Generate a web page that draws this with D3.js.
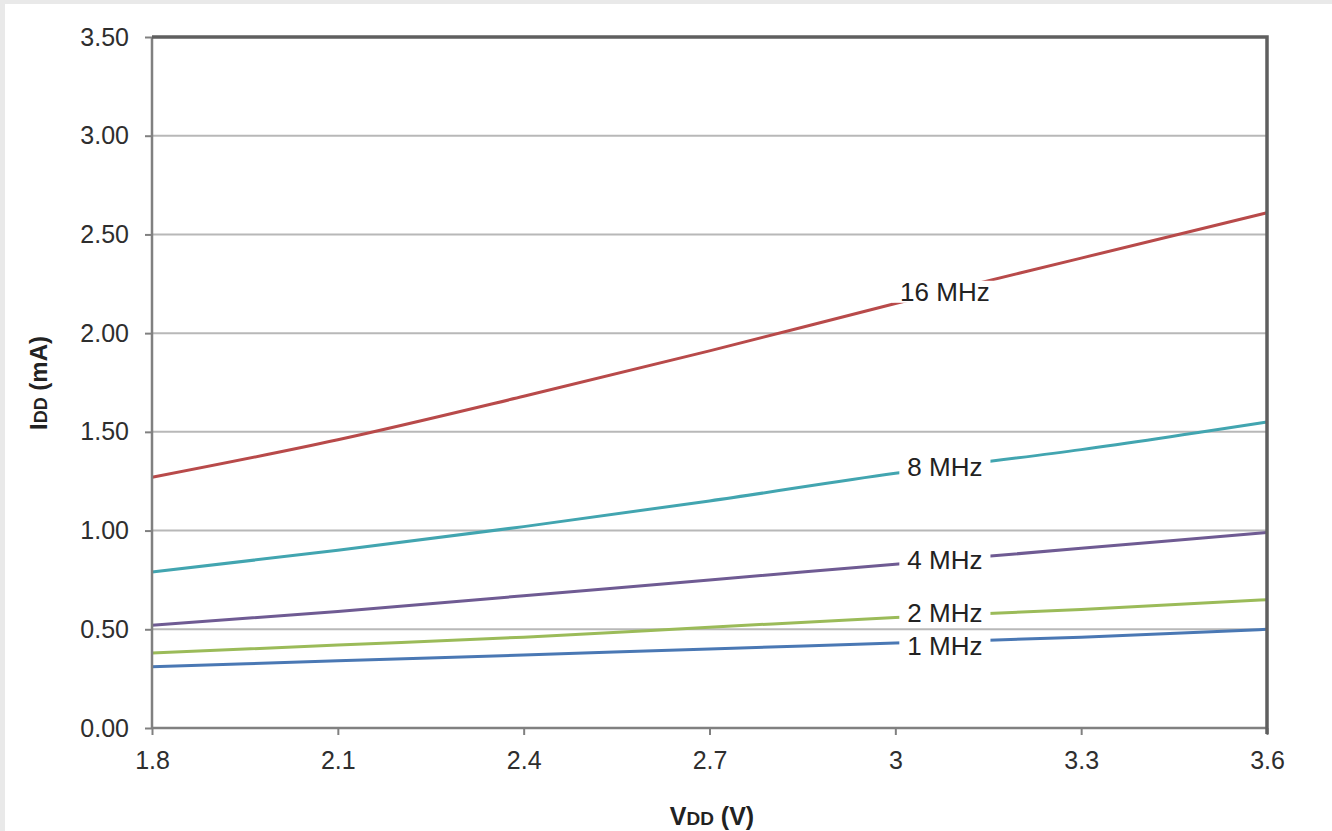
<!DOCTYPE html>
<html>
<head>
<meta charset="utf-8">
<script src="https://cdn.jsdelivr.net/npm/d3@7"></script>
<style>
  html, body { margin: 0; padding: 0; background: #e9e9e9; }
  svg { display: block; }
  text { font-family: "Liberation Sans", Arial, sans-serif; }
</style>
</head>
<body>
<svg id="chart" width="1332" height="831"></svg>
<script>
// Supply voltage (V) sample points
const vdd = [1.8, 2.1, 2.4, 2.7, 3.0, 3.3, 3.6];

// Supply current IDD (mA) per clock frequency
const idd1MHz  = [0.31, 0.34, 0.37, 0.40, 0.43, 0.46, 0.50];
const idd2MHz  = [0.38, 0.42, 0.46, 0.51, 0.56, 0.60, 0.65];
const idd4MHz  = [0.52, 0.59, 0.67, 0.75, 0.83, 0.91, 0.99];
const idd8MHz  = [0.79, 0.90, 1.02, 1.15, 1.29, 1.41, 1.55];
const idd16MHz = [1.27, 1.46, 1.68, 1.91, 2.15, 2.38, 2.61];

const seriesNames  = ["1 MHz", "2 MHz", "4 MHz", "8 MHz", "16 MHz"];
const seriesColors = ["#4a78b4", "#9bbb59", "#6f5b93", "#42a5b0", "#b84a4a"];
const seriesValues = [idd1MHz, idd2MHz, idd4MHz, idd8MHz, idd16MHz];

// Axis ticks
const xTicks = [1.8, 2.1, 2.4, 2.7, 3.0, 3.3, 3.6];
const xTickLabels = ["1.8", "2.1", "2.4", "2.7", "3", "3.3", "3.6"];
const yTicks = [0, 0.5, 1.0, 1.5, 2.0, 2.5, 3.0, 3.5];

// Voltage at which each curve carries its inline label
const labelVdd = 3.08;

const svg = d3.select("#chart");

// Light frame on the top and left edges, white canvas elsewhere
svg.append("rect").attr("x", 0).attr("y", 0).attr("width", 1332).attr("height", 831).attr("fill", "#e9e9e9");
svg.append("rect").attr("x", 5).attr("y", 4).attr("width", 1327).attr("height", 827).attr("fill", "#ffffff");

const plotLeft = 152, plotRight = 1267, plotTop = 37, plotBottom = 728;
const x = d3.scaleLinear().domain([1.8, 3.6]).range([plotLeft, plotRight]);
const y = d3.scaleLinear().domain([0, 3.5]).range([plotBottom, plotTop]);

// Horizontal gridlines
svg.append("g")
  .selectAll("line")
  .data(yTicks.filter(t => t > 0 && t < 3.5))
  .join("line")
  .attr("x1", plotLeft).attr("x2", plotRight)
  .attr("y1", d => y(d)).attr("y2", d => y(d))
  .attr("stroke", "#b8b8b8").attr("stroke-width", 2);

// Current curves
const line = d3.line()
  .x((d, i) => x(vdd[i]))
  .y(d => y(d))
  .curve(d3.curveMonotoneX);

svg.append("g")
  .selectAll("path")
  .data(seriesValues)
  .join("path")
  .attr("d", d => line(d))
  .attr("fill", "none")
  .attr("stroke", (d, i) => seriesColors[i])
  .attr("stroke-width", 3);

// Value of a series at a given voltage (linear between samples)
function valueAt(vals, v) {
  const i = Math.min(vals.length - 2, Math.max(0, d3.bisectRight(vdd, v) - 1));
  const t = (v - vdd[i]) / (vdd[i + 1] - vdd[i]);
  return vals[i] + t * (vals[i + 1] - vals[i]);
}

// Small vertical nudges so the two lowest labels do not collide
const labelNudge = { "1 MHz": 4, "2 MHz": -3 };

// Inline frequency labels on white boxes
const labels = svg.append("g");
seriesValues.forEach((vals, i) => {
  const name = seriesNames[i];
  const g = labels.append("g")
    .attr("transform", `translate(${x(labelVdd)},${y(valueAt(vals, labelVdd)) + (labelNudge[name] || 0)})`);
  const rect = g.append("rect").attr("fill", "#ffffff");
  const txt = g.append("text")
    .attr("text-anchor", "middle")
    .attr("dy", "0.36em")
    .attr("font-size", 26)
    .attr("fill", "#222222")
    .text(name);
  const b = txt.node().getBBox();
  rect.attr("x", b.x - 8).attr("y", b.y + 4).attr("width", b.width + 16).attr("height", b.height - 8);
});

// Axes
const yAxis = d3.axisLeft(y).tickValues(yTicks).tickFormat(d3.format(".2f")).tickSize(7).tickPadding(16);
const xAxis = d3.axisBottom(x).tickValues(xTicks).tickFormat((d, i) => xTickLabels[i]).tickSize(7).tickPadding(16);

const gy = svg.append("g").attr("transform", `translate(${plotLeft},0)`).call(yAxis);
const gx = svg.append("g").attr("transform", `translate(0,${plotBottom})`).call(xAxis);

[gx, gy].forEach(g => {
  g.select(".domain").attr("stroke", "#808080").attr("stroke-width", 2.5);
  g.selectAll(".tick line").attr("stroke", "#808080").attr("stroke-width", 2);
  g.selectAll(".tick text")
    .attr("font-size", 25)
    .attr("fill", "#2e2e2e")
    .attr("font-family", "'Liberation Sans', Arial, sans-serif");
});
gx.select(".domain").attr("d", `M${plotLeft},0H${plotRight}`);
gy.select(".domain").attr("d", `M0,${plotTop}V${plotBottom}`);

// Top and right border of the plot area
svg.append("path")
  .attr("d", `M${plotLeft},${plotTop}H${plotRight}V${plotBottom + 6}`)
  .attr("fill", "none")
  .attr("stroke", "#5f5f5f")
  .attr("stroke-width", 3.5);

// Axis titles
const xTitle = svg.append("text")
  .attr("x", 712).attr("y", 825)
  .attr("text-anchor", "middle")
  .attr("font-size", 25).attr("font-weight", "bold").attr("fill", "#222");
xTitle.append("tspan").text("V");
xTitle.append("tspan").attr("font-size", 19).text("DD");
xTitle.append("tspan").text(" (V)");

const yTitle = svg.append("text")
  .attr("transform", "translate(47,383) rotate(-90)")
  .attr("text-anchor", "middle")
  .attr("font-size", 24).attr("font-weight", "bold").attr("fill", "#222");
yTitle.append("tspan").text("I");
yTitle.append("tspan").attr("font-size", 18).text("DD");
yTitle.append("tspan").text(" (mA)");
</script>
</body>
</html>
